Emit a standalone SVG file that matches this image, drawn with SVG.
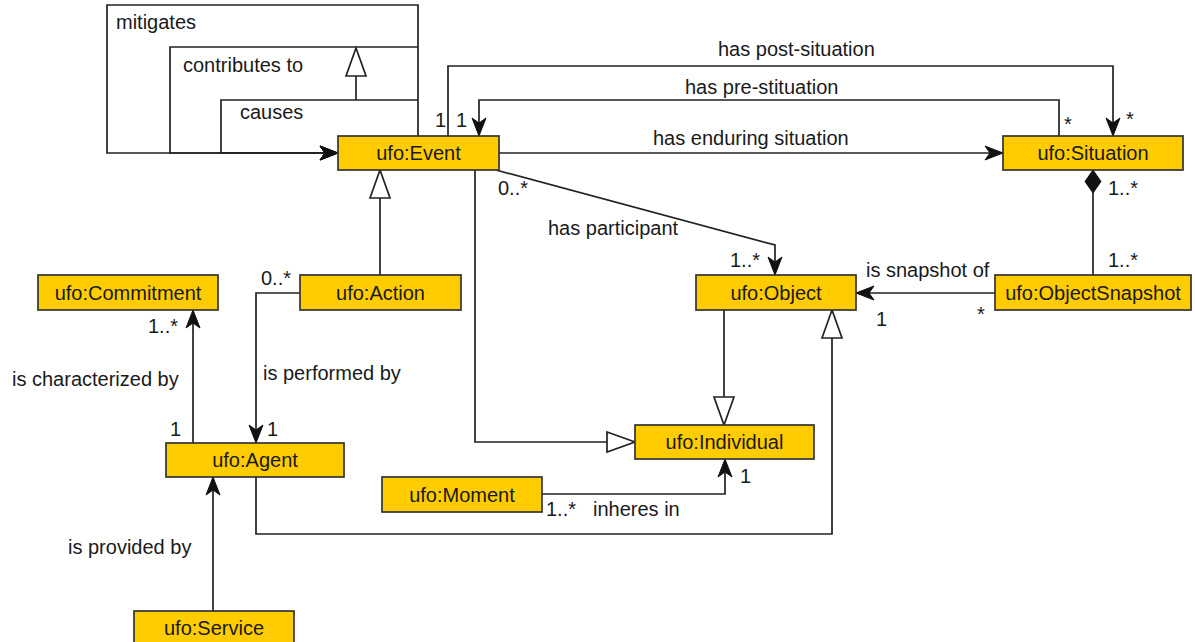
<svg xmlns="http://www.w3.org/2000/svg" width="1195" height="642" viewBox="0 0 1195 642">
<style>
.node rect{fill:#FFCC00;stroke:#333;stroke-width:1.7}
.node text{font-family:"Liberation Sans",Arial,sans-serif;font-size:20px;fill:#1a1a1a;text-anchor:middle}
.edge{fill:none;stroke:#222;stroke-width:1.7}
.lbl{font-family:"Liberation Sans",Arial,sans-serif;font-size:20px;fill:#1a1a1a}
</style>
<defs>
<marker id="arrow" markerUnits="userSpaceOnUse" markerWidth="20" markerHeight="14" refX="18" refY="7" orient="auto" overflow="visible">
<path d="M0,0 L18,7 L0,14 L5,7 Z" fill="#111" stroke="#111" stroke-width="1"/>
</marker>
<marker id="tri" markerUnits="userSpaceOnUse" markerWidth="30" markerHeight="22" refX="28" refY="10" orient="auto" overflow="visible">
<path d="M0,0 L28,10 L0,20 Z" fill="#fff" stroke="#222" stroke-width="1.7"/>
</marker>
<marker id="diamond" markerUnits="userSpaceOnUse" markerWidth="24" markerHeight="17" refX="0" refY="8" orient="auto" overflow="visible">
<path d="M0,8 L11.5,0 L23,8 L11.5,16 Z" fill="#111" stroke="#111" stroke-width="1"/>
</marker>
</defs>
<rect width="1195" height="642" fill="#fff"/>
<g id="connectors">
<path class="edge" d="M418,136 L418,5 L107,5 L107,153 L338,153" marker-end="url(#arrow)"/>
<path class="edge" d="M418,47 L170,47 L170,153 L338,153" marker-end="url(#arrow)"/>
<path class="edge" d="M418,100 L221,100 L221,153 L338,153" marker-end="url(#arrow)"/>
<path class="edge" d="M356,100 L356,48" marker-end="url(#tri)"/>
<path class="edge" d="M448,136 L448,66 L1113,66 L1113,136" marker-end="url(#arrow)"/>
<path class="edge" d="M1059,136 L1059,100 L479,100 L479,136" marker-end="url(#arrow)"/>
<path class="edge" d="M499,153 L1003,153" marker-end="url(#arrow)"/>
<path class="edge" d="M496,170 L775,245 L775,275" marker-end="url(#arrow)"/>
<path class="edge" d="M380,275 L380,170" marker-end="url(#tri)"/>
<path class="edge" d="M475,170 L475,442 L635,442" marker-end="url(#tri)"/>
<path class="edge" d="M724,310 L724,425" marker-end="url(#tri)"/>
<path class="edge" d="M256,477 L256,534 L832,534 L832,310" marker-end="url(#tri)"/>
<path class="edge" d="M542,494 L725,494 L725,459" marker-end="url(#arrow)"/>
<path class="edge" d="M995,293 L856,293" marker-end="url(#arrow)"/>
<path class="edge" d="M1093,170 L1093,275" marker-start="url(#diamond)"/>
<path class="edge" d="M300,293 L256,293 L256,443" marker-end="url(#arrow)"/>
<path class="edge" d="M193,443 L193,310" marker-end="url(#arrow)"/>
<path class="edge" d="M213,611 L213,477" marker-end="url(#arrow)"/>
</g>
<g id="labels">
<text class="lbl" x="116" y="29">mitigates</text>
<text class="lbl" x="183" y="72">contributes to</text>
<text class="lbl" x="240" y="119">causes</text>
<text class="lbl" x="435" y="127">1</text>
<text class="lbl" x="456" y="127">1</text>
<text class="lbl" x="718" y="56">has post-situation</text>
<text class="lbl" x="685" y="94">has pre-stituation</text>
<text class="lbl" x="653" y="145">has enduring situation</text>
<text class="lbl" x="1126" y="126">*</text>
<text class="lbl" x="1064" y="131">*</text>
<text class="lbl" x="1108" y="195">1..*</text>
<text class="lbl" x="1108" y="267">1..*</text>
<text class="lbl" x="866" y="277">is snapshot of</text>
<text class="lbl" x="876" y="326">1</text>
<text class="lbl" x="977" y="321">*</text>
<text class="lbl" x="730" y="267">1..*</text>
<text class="lbl" x="498" y="195">0..*</text>
<text class="lbl" x="548" y="235">has participant</text>
<text class="lbl" x="261" y="285">0..*</text>
<text class="lbl" x="148" y="333">1..*</text>
<text class="lbl" x="263" y="380">is performed by</text>
<text class="lbl" x="12" y="386">is characterized by</text>
<text class="lbl" x="170" y="436">1</text>
<text class="lbl" x="267" y="436">1</text>
<text class="lbl" x="68" y="554">is provided by</text>
<text class="lbl" x="546" y="516">1..*</text>
<text class="lbl" x="593" y="516">inheres in</text>
<text class="lbl" x="740" y="483">1</text>
</g>
<g id="event" class="node"><rect x="338" y="136" width="161" height="34"/><text x="418.5" y="160">ufo:Event</text></g>
<g id="situation" class="node"><rect x="1003" y="136" width="180" height="34"/><text x="1093" y="160">ufo:Situation</text></g>
<g id="objectsnapshot" class="node"><rect x="995" y="275" width="196" height="35"/><text x="1093" y="300">ufo:ObjectSnapshot</text></g>
<g id="commitment" class="node"><rect x="38" y="275" width="180" height="35"/><text x="128" y="300">ufo:Commitment</text></g>
<g id="action" class="node"><rect x="300" y="275" width="161" height="35"/><text x="380.5" y="300">ufo:Action</text></g>
<g id="object" class="node"><rect x="696" y="275" width="160" height="35"/><text x="776" y="300">ufo:Object</text></g>
<g id="agent" class="node"><rect x="166" y="443" width="178" height="34"/><text x="255" y="467">ufo:Agent</text></g>
<g id="individual" class="node"><rect x="635" y="425" width="179" height="34"/><text x="724.5" y="449">ufo:Individual</text></g>
<g id="moment" class="node"><rect x="382" y="477" width="160" height="35"/><text x="462" y="502">ufo:Moment</text></g>
<g id="service" class="node"><rect x="134" y="611" width="160" height="34"/><text x="214" y="635">ufo:Service</text></g>
</svg>
